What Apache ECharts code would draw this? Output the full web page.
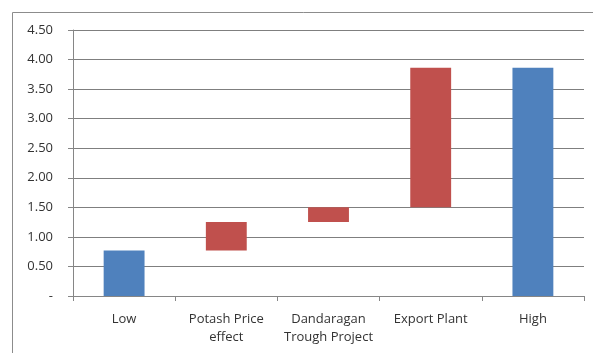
<!DOCTYPE html>
<html>
<head>
<meta charset="utf-8">
<script src="https://cdn.jsdelivr.net/npm/echarts@6/dist/echarts.min.js"></script>
<style>
  html, body { margin: 0; padding: 0; background: #fff; }
  #chart { width: 593px; height: 353px; }
</style>
</head>
<body>
<div id="chart"></div>
<script>
// Waterfall: low case, three uplifts, high case
const categories = ['Low', 'Potash Price\neffect', 'Dandaragan\nTrough Project', 'Export Plant', 'High'];
// invisible base under each floating bar
const baseValues = [0, 0.77, 1.25, 1.50, 0];
// totals (blue)
const totalValues = [0.77, null, null, null, 3.86];
// increments (red)
const stepValues = [null, 0.48, 0.25, 2.36, null];
const yTicks = [0, 0.5, 1.0, 1.5, 2.0, 2.5, 3.0, 3.5, 4.0, 4.5];

const FONT = 'Open Sans';
const chart = echarts.init(document.getElementById('chart'), null, { renderer: 'canvas' });

chart.setOption({
  animation: false,
  backgroundColor: '#fff',
  textStyle: { fontFamily: FONT },
  grid: { left: 73, right: 9, top: 30, bottom: 57, containLabel: false },
  graphic: [{
    type: 'rect',
    shape: { x: 12.5, y: 12.5, width: 700, height: 500 },
    style: { fill: 'none', stroke: '#8c8c8c', lineWidth: 1 },
    silent: true
  }],
  xAxis: {
    type: 'category',
    data: categories,
    axisLine: { lineStyle: { color: '#868686', width: 1 } },
    axisTick: { show: true, alignWithLabel: false, length: 5, lineStyle: { color: '#868686' } },
    axisLabel: { color: '#333', fontSize: 13, fontFamily: FONT, margin: 14, lineHeight: 18, interval: 0 },
    splitLine: { show: false }
  },
  yAxis: {
    type: 'value',
    min: yTicks[0],
    max: yTicks[yTicks.length - 1],
    interval: 0.5,
    axisLine: { show: true, lineStyle: { color: '#868686', width: 1 } },
    axisTick: { show: true, length: 5, lineStyle: { color: '#868686' } },
    axisLabel: {
      color: '#333', fontSize: 13, fontFamily: FONT, margin: 20,
      formatter: v => (v === 0 ? '-' : v.toFixed(2))
    },
    splitLine: { show: true, lineStyle: { color: '#7f7f7f', width: 1 } }
  },
  series: [
    {
      name: 'base', type: 'bar', stack: 'w', data: baseValues,
      itemStyle: { color: 'transparent' }, barCategoryGap: '60%', silent: true
    },
    {
      name: 'total', type: 'bar', stack: 'w', data: totalValues,
      itemStyle: { color: '#4f81bd' }, barCategoryGap: '60%'
    },
    {
      name: 'step', type: 'bar', stack: 'w', data: stepValues,
      itemStyle: { color: '#c0504d' }, barCategoryGap: '60%'
    }
  ]
});
</script>
</body>
</html>
